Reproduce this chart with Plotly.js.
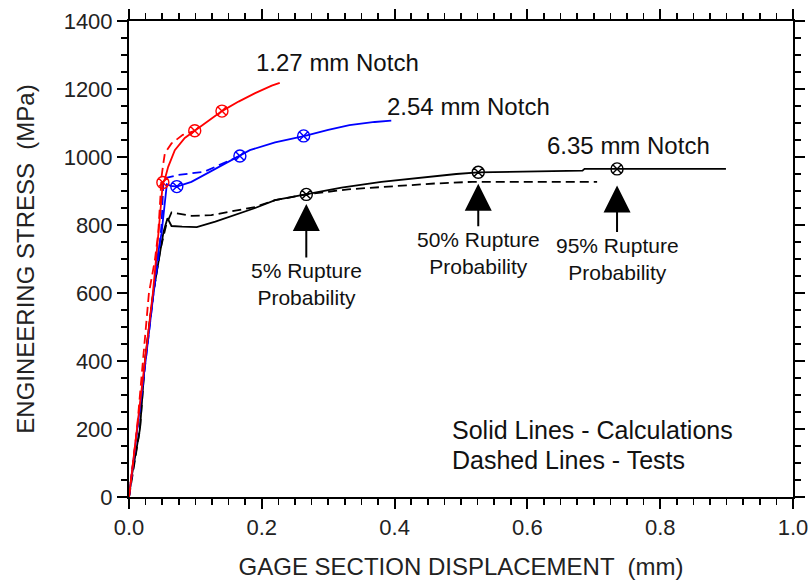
<!DOCTYPE html>
<html>
<head>
<meta charset="utf-8">
<script src="https://cdn.plot.ly/plotly-3.0.1.min.js"></script>
<style>html,body{margin:0;padding:0;background:#fff;}#chart{width:812px;height:580px;background:#fff;}</style>
</head>
<body>
<div id="chart"></div>
<script>
// 1.27 mm notch
var red_calc_x = [0, 0.012, 0.024, 0.036, 0.045, 0.051, 0.054, 0.059, 0.069, 0.084, 0.099, 0.12, 0.140, 0.165, 0.19, 0.215, 0.227];
var red_calc_y = [0, 200, 400, 600, 790, 925, 935, 971, 1020, 1056, 1077, 1108, 1135, 1163, 1188, 1210, 1218];
var red_test_x = [0, 0.012, 0.021, 0.030, 0.039, 0.044, 0.047, 0.049, 0.052, 0.054, 0.064, 0.081, 0.099];
var red_test_y = [0, 200, 400, 600, 697, 776, 873, 942, 985, 1011, 1040, 1065, 1077];
var red_mark_x = [0.051, 0.099, 0.140];
var red_mark_y = [925, 1077, 1135];
// 2.54 mm notch
var blue_calc_x = [0, 0.013, 0.025, 0.037, 0.042, 0.049, 0.054, 0.057, 0.063, 0.072, 0.094, 0.13, 0.167, 0.182, 0.22, 0.265, 0.3, 0.332, 0.37, 0.395];
var blue_calc_y = [0, 200, 400, 600, 697, 776, 873, 920, 915, 913, 927, 965, 1003, 1020, 1043, 1062, 1080, 1094, 1103, 1107];
var blue_test_x = [0, 0.013, 0.025, 0.037, 0.044, 0.049, 0.052, 0.074, 0.114, 0.14, 0.167];
var blue_test_y = [0, 200, 400, 600, 697, 800, 937, 947, 957, 980, 1003];
var blue_mark_x = [0.072, 0.167, 0.263];
var blue_mark_y = [913, 1003, 1062];
// 6.35 mm notch
var black_calc_x = [0, 0.004, 0.0165, 0.024, 0.0365, 0.047, 0.052, 0.058, 0.064, 0.08, 0.102, 0.13, 0.16, 0.19, 0.22, 0.267, 0.32, 0.38, 0.44, 0.493, 0.526, 0.6, 0.683, 0.686, 0.735, 0.8, 0.899];
var black_calc_y = [0, 60, 200, 400, 600, 726, 780, 820, 797, 795, 794, 810, 830, 850, 873, 890, 910, 927, 940, 950, 955, 957, 960, 965, 965, 965, 965];
var black_test_x = [0, 0.0165, 0.024, 0.0365, 0.047, 0.056, 0.064, 0.08, 0.094, 0.124, 0.154, 0.19, 0.22, 0.267, 0.33, 0.4, 0.46, 0.517, 0.6, 0.705];
var black_test_y = [0, 200, 400, 600, 726, 800, 837, 832, 827, 829, 839, 853, 873, 890, 905, 915, 922, 927, 927, 927];
var black_mark_x = [0.267, 0.526, 0.735];
var black_mark_y = [890, 955, 965];

var notch_labels = ["1.27 mm Notch", "2.54 mm Notch", "6.35 mm Notch"];
var notch_label_x = [0.188, 0.386, 0.626];
var notch_label_y = [1279, 1150, 1035];
var rupture_labels = ["5% Rupture<br>Probability", "50% Rupture<br>Probability", "95% Rupture<br>Probability"];
var rupture_x = [0.267, 0.526, 0.735];
var rupture_tip_y = [862, 921, 916];
var rupture_ay = [80, 69, 73];
var note_labels = ["Solid Lines - Calculations", "Dashed Lines - Tests"];
var note_y = [197, 109];

var FONT = "Liberation Sans, Arial, sans-serif";
function line(x, y, color, dash) {
  return {x: x, y: y, type: 'scatter', mode: 'lines', line: {color: color, width: 1.8, dash: dash}, hoverinfo: 'skip'};
}
function marks(x, y, color) {
  return {x: x, y: y, type: 'scatter', mode: 'markers', marker: {symbol: 'circle-x-open', size: 12, color: color, line: {width: 1.4, color: color}}, hoverinfo: 'skip'};
}
var data = [
  line(black_test_x, black_test_y, '#000', '9px,5px'),
  line(black_calc_x, black_calc_y, '#000', 'solid'),
  line(blue_test_x, blue_test_y, '#0000ff', '9px,5px'),
  line(blue_calc_x, blue_calc_y, '#0000ff', 'solid'),
  line(red_test_x, red_test_y, '#ff0000', '9px,5px'),
  line(red_calc_x, red_calc_y, '#ff0000', 'solid'),
  marks(black_mark_x, black_mark_y, '#000'),
  marks(blue_mark_x, blue_mark_y, '#0000ff'),
  marks(red_mark_x, red_mark_y, '#ff0000')
];

var annotations = [];
for (var i = 0; i < notch_labels.length; i++) {
  annotations.push({x: notch_label_x[i], y: notch_label_y[i], xref: 'x', yref: 'y', text: notch_labels[i], showarrow: false, xanchor: 'left', yanchor: 'middle', font: {family: FONT, size: 24, color: '#111'}});
}
for (var j = 0; j < rupture_labels.length; j++) {
  annotations.push({x: rupture_x[j], y: rupture_tip_y[j], xref: 'x', yref: 'y', text: rupture_labels[j], showarrow: true, ax: 0, ay: rupture_ay[j], arrowhead: 2, arrowsize: 2.7, arrowwidth: 2, arrowcolor: '#000', font: {family: FONT, size: 21, color: '#111'}});
}
for (var k = 0; k < note_labels.length; k++) {
  annotations.push({x: 0.483, y: note_y[k], xref: 'x', yref: 'y', text: note_labels[k], showarrow: false, xanchor: 'left', font: {family: FONT, size: 25, color: '#111'}});
}

var X_RANGE = [0, 1], Y_RANGE = [0, 1400];
var xMinor = {dtick: 0.025, tick0: 0, ticks: 'outside', ticklen: 6, tickwidth: 1.5, tickcolor: '#000', showgrid: false};
var yMinor = {dtick: 50, tick0: 0, ticks: 'outside', ticklen: 6, tickwidth: 1.5, tickcolor: '#000', showgrid: false};

var layout = {
  width: 812, height: 580,
  margin: {l: 129, r: 19, t: 21, b: 83},
  paper_bgcolor: '#fff', plot_bgcolor: '#fff',
  showlegend: false,
  font: {family: FONT, size: 22, color: '#222'},
  xaxis: {
    range: X_RANGE, dtick: 0.2, tick0: 0, tickformat: '.1f',
    showgrid: false, zeroline: false, showline: true, linecolor: '#000', linewidth: 2,
    mirror: 'ticks', ticks: 'outside', ticklen: 10, tickwidth: 2, tickcolor: '#000',
    minor: xMinor,
    tickfont: {family: FONT, size: 22, color: '#222'},
    title: {text: 'GAGE SECTION DISPLACEMENT  (mm)', font: {family: FONT, size: 24, color: '#222'}, standoff: 22},
    automargin: false
  },
  yaxis: {
    range: Y_RANGE, dtick: 200, tick0: 0,
    showgrid: false, zeroline: false, showline: true, linecolor: '#000', linewidth: 2,
    mirror: 'ticks', ticks: 'outside', ticklen: 10, tickwidth: 2, tickcolor: '#000',
    minor: yMinor,
    tickfont: {family: FONT, size: 22, color: '#222'},
    title: {text: 'ENGINEERING STRESS  (MPa)', font: {family: FONT, size: 24, color: '#222'}, standoff: 22},
    automargin: false
  },
  annotations: annotations
};
Plotly.newPlot('chart', data, layout, {staticPlot: true, displayModeBar: false});
</script>
</body>
</html>
